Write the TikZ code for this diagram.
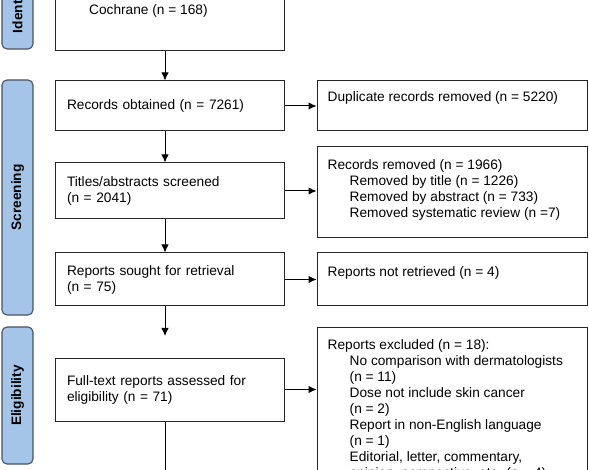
\documentclass[tikz,border=0pt]{standalone}
\usepackage{fontspec}
\setmainfont{Liberation Sans}
\usetikzlibrary{arrows.meta}

\definecolor{phasefill}{RGB}{164,197,232}
\definecolor{phaseline}{RGB}{72,82,98}
\newcommand{\indentitem}{\hspace*{22pt}}

\begin{document}
\begin{tikzpicture}[x=1pt, y=-1pt,
    font=\fontsize{13.7}{16}\selectfont,
    phase/.style={draw=phaseline, line width=1.1pt, fill=phasefill, rounded corners=5pt,
        rotate=90, minimum height=31pt, inner sep=0pt, font=\fontsize{13.7}{16}\selectfont\bfseries},
    mainbox/.style={draw=black!85, line width=1pt, minimum width=229pt, text width=205pt,
        inner xsep=12pt, align=left},
    sidebox/.style={draw=black!85, line width=1pt, minimum width=270pt, inner sep=0pt},
    boxtext/.style={anchor=north west, inner sep=0pt, align=left},
    flow/.style={line width=1pt, -{Latex[length=8pt,width=7.5pt]}}]

    \useasboundingbox (0,0) rectangle (589,470);
    \clip (0,0) rectangle (589,470);

    % Phase labels
    \node[phase, minimum width=117pt] (ident) at (17.5,-9.5) {Identification};
    \node[phase, minimum width=235pt] (screen) at (17.5,197.5) {Screening};
    \node[phase, minimum width=137pt] (elig) at (17.5,395.5) {Eligibility};

    % Main column
    \node[mainbox, minimum height=120pt] (records) at (169.5,-9) {};
    \node[anchor=base west, inner sep=0pt] (cochrane) at (89,15) {Cochrane (n = 168)};
    \node[mainbox, minimum height=50pt] (obtained) at (169.5,106) {Records obtained (n = 7261)};
    \node[mainbox, minimum height=56pt] (titles) at (169.5,191) {Titles/abstracts screened\\(n = 2041)};
    \node[mainbox, minimum height=53pt] (sought) at (169.5,279.5) {Reports sought for retrieval\\(n = 75)};
    \node[mainbox, minimum height=63pt] (fulltext) at (169.5,389.5) {Full-text reports assessed for\\eligibility (n = 71)};

    % Side column
    \node[sidebox, minimum height=50pt] (duplicate) at (452,106) {};
    \node[sidebox, minimum height=91pt] (removed) at (452,192.5) {};
    \node[sidebox, minimum height=53pt] (notretrieved) at (452,279.5) {};
    \node[sidebox, minimum height=200pt] (excluded) at (452,428) {};

    \node[boxtext] (duplicatetext) at ([xshift=11pt,yshift=-11pt]duplicate.north west)
        {Duplicate records removed (n = 5220)};
    \node[boxtext] (removedtext) at ([xshift=11pt,yshift=-13pt]removed.north west)
        {Records removed (n = 1966)\\
         \indentitem Removed by title (n = 1226)\\
         \indentitem Removed by abstract (n = 733)\\
         \indentitem Removed systematic review (n =7)};
    \node[boxtext] (notretrievedtext) at ([xshift=11pt,yshift=-14pt]notretrieved.north west)
        {Reports not retrieved (n = 4)};
    \node[boxtext] (excludedtext) at ([xshift=11pt,yshift=-12pt]excluded.north west)
        {Reports excluded (n = 18):\\
         \indentitem No comparison with dermatologists\\
         \indentitem (n = 11)\\
         \indentitem Dose not include skin cancer\\
         \indentitem (n = 2)\\
         \indentitem Report in non-English language\\
         \indentitem (n = 1)\\
         \indentitem Editorial, letter, commentary,\\
         \indentitem opinion, perspective, etc. (n = 4)};

    % Connectors
    \coordinate (spine) at (165,0);
    \coordinate (gap) at (165,336);
    \coordinate (below) at (165,480);

    \draw[flow] (records.south -| spine) -- (obtained.north -| spine);
    \draw[flow] (obtained.south -| spine) -- (titles.north -| spine);
    \draw[flow] (titles.south -| spine) -- (sought.north -| spine);
    \draw[flow] (sought.south -| spine) -- (gap);
    \draw[line width=1pt] (fulltext.south -| spine) -- (below);

    \draw[flow] (obtained.east) -- (obtained.east -| duplicate.west);
    \draw[flow] (titles.east) -- (titles.east -| removed.west);
    \draw[flow] (sought.east) -- (sought.east -| notretrieved.west);
    \draw[flow] (fulltext.east) -- (fulltext.east -| excluded.west);

\end{tikzpicture}
\end{document}
